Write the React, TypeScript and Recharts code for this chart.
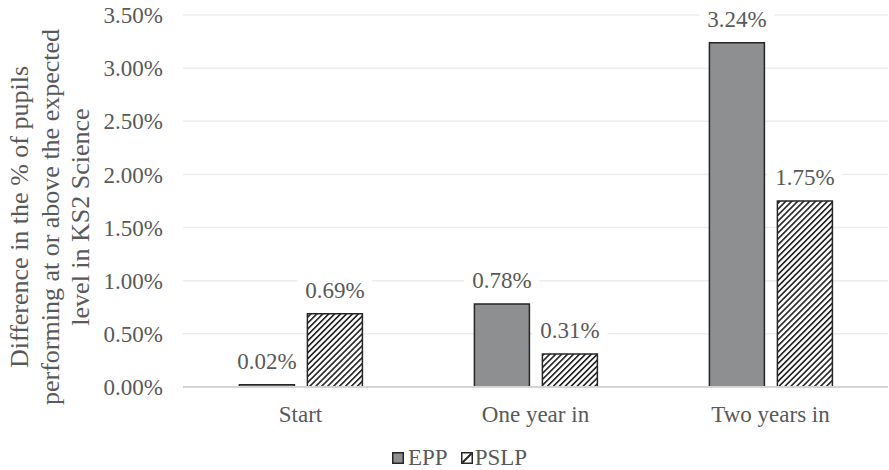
import { BarChart, Bar, XAxis, YAxis, CartesianGrid, LabelList, Legend } from "recharts";

const categories = ["Start", "One year in", "Two years in"];
const eppValues = [0.02, 0.78, 3.24];
const pslpValues = [0.69, 0.31, 1.75];
const yTicks = [0, 0.5, 1, 1.5, 2, 2.5, 3, 3.5];
const yTitleLines = [
  "Difference in the % of pupils",
  "performing at or above the expected",
  "level in KS2 Science",
];

const data = categories.map((name, i) => ({
  name,
  EPP: eppValues[i],
  PSLP: pslpValues[i],
}));

const FONT = '"Liberation Serif", "Times New Roman", Times, "DejaVu Serif", serif';
const TEXT = "#595959";
const GRAY = "#8e8f91";
const EDGE = "#262626";
const FS = 23;

const pct = (v: number) => `${v.toFixed(2)}%`;

function YTitle() {
  const cy = 217;
  const xs = [28, 58.5, 89];
  return (
    <g>
      {yTitleLines.map((line, i) => (
        <text
          key={line}
          x={xs[i]}
          y={cy}
          transform={`rotate(-90 ${xs[i]} ${cy})`}
          textAnchor="middle"
          fill={TEXT}
          style={{ fontFamily: FONT, fontSize: 26 }}
        >
          {line}
        </text>
      ))}
    </g>
  );
}

// value label with a white box behind it, like the original chart's label boxes
function ValueLabel(props: any) {
  const { x, y, width, value } = props;
  const cx = Number(x) + Number(width) / 2;
  const base = Number(y) - 16;
  const w = 75;
  return (
    <g>
      <rect x={cx - w / 2} y={base - 22} width={w} height={28} fill="#fff" />
      <text
        x={cx}
        y={base}
        textAnchor="middle"
        fill={TEXT}
        style={{ fontFamily: FONT, fontSize: FS }}
      >
        {pct(Number(value))}
      </text>
    </g>
  );
}

function LegendBox() {
  return (
    <div
      style={{
        display: "flex",
        alignItems: "center",
        height: 28,
        gap: 13,
        fontFamily: FONT,
        fontSize: FS,
        color: TEXT,
        paddingLeft: 392,
      }}
    >
      <span style={{ display: "flex", alignItems: "center", gap: 4 }}>
        <svg width={12} height={12}>
          <rect x={0.75} y={0.75} width={10.5} height={10.5} fill={GRAY} stroke={EDGE} strokeWidth={1.5} />
        </svg>
        EPP
      </span>
      <span style={{ display: "flex", alignItems: "center", gap: 2 }}>
        <svg width={12} height={12}>
          <rect x={0.75} y={0.75} width={10.5} height={10.5} fill="#fff" stroke={EDGE} strokeWidth={1.5} />
          <line x1={1.5} y1={10.5} x2={10.5} y2={1.5} stroke={EDGE} strokeWidth={2} />
        </svg>
        PSLP
      </span>
    </div>
  );
}

const tickStyle = { fill: TEXT, fontFamily: FONT, fontSize: FS };

export default function App() {
  return (
    <div style={{ position: "absolute", left: 0, top: 0, background: "#fff", fontFamily: FONT }}>
      <BarChart
        width={889}
        height={470}
        data={data}
        margin={{ top: 15, right: 1, left: 0, bottom: 0 }}
        barCategoryGap="24%"
        barGap={13}
        style={{ fontFamily: FONT }}
      >
        <defs>
          <pattern
            id="hatch"
            patternUnits="userSpaceOnUse"
            width={4.2}
            height={4.2}
            patternTransform="rotate(45)"
          >
            <rect width={4.2} height={4.2} fill="#fff" />
            <line x1={0.8} y1={0} x2={0.8} y2={4.2} stroke="#111" strokeWidth={1.5} />
          </pattern>
        </defs>
        <CartesianGrid vertical={false} stroke="#ececec" strokeWidth={1.5} />
        <XAxis
          dataKey="name"
          tickLine={false}
          axisLine={{ stroke: "#d4d4d4", strokeWidth: 2 }}
          tick={tickStyle}
          tickMargin={13}
          height={55}
        />
        <YAxis
          width={183}
          domain={[0, 3.5]}
          ticks={yTicks}
          tickFormatter={pct}
          tickLine={false}
          axisLine={false}
          tick={tickStyle}
          tickMargin={14}
          label={<YTitle />}
        />
        <Legend
          verticalAlign="bottom"
          height={28}
          content={<LegendBox />}
          wrapperStyle={{ top: 444, bottom: "auto", left: 0, width: 889 }}
        />
        <Bar dataKey="EPP" fill={GRAY} stroke={EDGE} strokeWidth={1.5} isAnimationActive={false}>
          <LabelList dataKey="EPP" content={<ValueLabel />} />
        </Bar>
        <Bar dataKey="PSLP" fill="url(#hatch)" stroke={EDGE} strokeWidth={1.5} isAnimationActive={false}>
          <LabelList dataKey="PSLP" content={<ValueLabel />} />
        </Bar>
      </BarChart>
    </div>
  );
}
